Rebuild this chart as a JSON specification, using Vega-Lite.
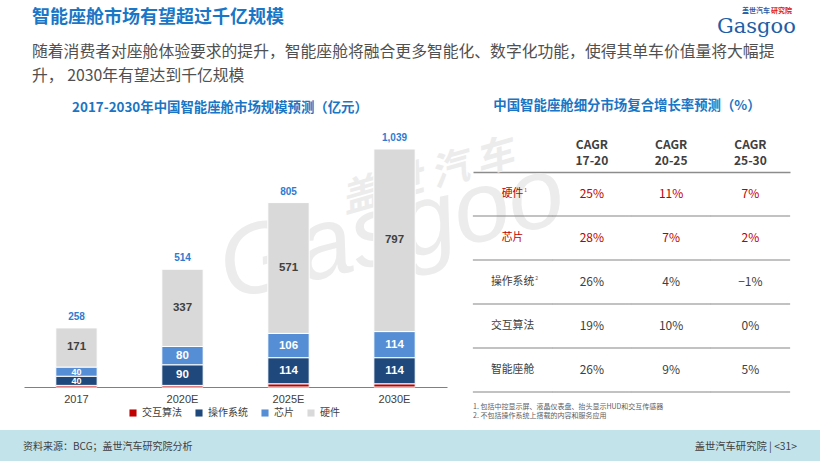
{
  "$schema": "https://vega.github.io/schema/vega-lite/v6.json",
  "width": 820,
  "height": 461,
  "autosize": "none",
  "padding": 0,
  "background": "#ffffff",
  "config": {"view": {"stroke": null}, "font": "Noto Sans CJK SC"},
  "datasets": {
    "market": [
      {"year": "2017", "part": "交互算法", "value": 7},
      {"year": "2017", "part": "操作系统", "value": 40},
      {"year": "2017", "part": "芯片", "value": 40},
      {"year": "2017", "part": "硬件", "value": 171},
      {"year": "2020E", "part": "交互算法", "value": 7},
      {"year": "2020E", "part": "操作系统", "value": 90},
      {"year": "2020E", "part": "芯片", "value": 80},
      {"year": "2020E", "part": "硬件", "value": 337},
      {"year": "2025E", "part": "交互算法", "value": 14},
      {"year": "2025E", "part": "操作系统", "value": 114},
      {"year": "2025E", "part": "芯片", "value": 106},
      {"year": "2025E", "part": "硬件", "value": 571},
      {"year": "2030E", "part": "交互算法", "value": 14},
      {"year": "2030E", "part": "操作系统", "value": 114},
      {"year": "2030E", "part": "芯片", "value": 114},
      {"year": "2030E", "part": "硬件", "value": 797}
    ],
    "cagr": [
      {"item": "硬件", "period": "17-20", "value": 0.25},
      {"item": "硬件", "period": "20-25", "value": 0.11},
      {"item": "硬件", "period": "25-30", "value": 0.07},
      {"item": "芯片", "period": "17-20", "value": 0.28},
      {"item": "芯片", "period": "20-25", "value": 0.07},
      {"item": "芯片", "period": "25-30", "value": 0.02},
      {"item": "操作系统", "period": "17-20", "value": 0.26},
      {"item": "操作系统", "period": "20-25", "value": 0.04},
      {"item": "操作系统", "period": "25-30", "value": -0.01},
      {"item": "交互算法", "period": "17-20", "value": 0.19},
      {"item": "交互算法", "period": "20-25", "value": 0.10},
      {"item": "交互算法", "period": "25-30", "value": 0.0},
      {"item": "智能座舱", "period": "17-20", "value": 0.26},
      {"item": "智能座舱", "period": "20-25", "value": 0.09},
      {"item": "智能座舱", "period": "25-30", "value": 0.05}
    ]
  },
  "layer": [
    {"data": {"values": [{}]}, "mark": {"type": "rect", "x": 0, "x2": 820, "y": 430, "y2": 461, "color": "#c3e3eb"}},
    {"data": {"values": [{}]}, "mark": {"type": "text", "text": "Gasgoo", "x": 228, "y": 300, "angle": -13, "align": "left", "baseline": "alphabetic", "fontSize": 100, "fontStyle": "italic", "font": "Liberation Sans", "color": "#ececec"}},
    {"data": {"values": [{}]}, "mark": {"type": "text", "text": "盖  世  汽  车", "x": 345, "y": 213, "angle": -16, "align": "left", "baseline": "alphabetic", "fontSize": 38, "fontWeight": "bold", "fontStyle": "italic", "color": "#ececec"}},
    {"data": {"values": [{}]}, "mark": {"type": "text", "text": "智能座舱市场有望超过千亿规模", "x": 32, "y": 18, "align": "left", "baseline": "middle", "fontSize": 18, "fontWeight": "bold", "color": "#1a76c6"}},
    {"data": {"values": [{}]}, "mark": {"type": "text", "text": "随着消费者对座舱体验要求的提升，智能座舱将融合更多智能化、数字化功能，使得其单车价值量将大幅提", "x": 32, "y": 52, "align": "left", "baseline": "middle", "fontSize": 15.8, "color": "#505050"}},
    {"data": {"values": [{}]}, "mark": {"type": "text", "text": "升， 2030年有望达到千亿规模", "x": 32, "y": 76, "align": "left", "baseline": "middle", "fontSize": 15.8, "color": "#505050"}},
    {"data": {"values": [{}]}, "mark": {"type": "text", "text": "Gasgoo", "x": 717, "y": 33, "align": "left", "baseline": "alphabetic", "fontSize": 21, "font": "DejaVu Serif", "color": "#1f5fa6"}},
    {"data": {"values": [{}]}, "mark": {"type": "text", "text": "盖世汽车", "x": 742, "y": 11, "align": "left", "baseline": "middle", "fontSize": 7, "fontWeight": "bold", "color": "#1f5fa6"}},
    {"data": {"values": [{}]}, "mark": {"type": "text", "text": "研究院", "x": 771, "y": 11, "align": "left", "baseline": "middle", "fontSize": 7, "fontWeight": "bold", "color": "#d7192b"}},
    {"data": {"values": [{}]}, "mark": {"type": "text", "text": "2017-2030年中国智能座舱市场规模预测（亿元）", "x": 220, "y": 108, "align": "center", "baseline": "middle", "fontSize": 13.4, "fontWeight": "bold", "color": "#1a75c4"}},
    {"data": {"values": [{}]}, "mark": {"type": "text", "text": "中国智能座舱细分市场复合增长率预测（%）", "x": 627, "y": 106, "align": "center", "baseline": "middle", "fontSize": 13.4, "fontWeight": "bold", "color": "#1a75c4"}},
    {"data": {"values": [{}]}, "mark": {"type": "text", "text": "1. 包括中控显示屏、液晶仪表盘、抬头显示HUD和交互传感器", "x": 473, "y": 406.5, "align": "left", "baseline": "middle", "fontSize": 7, "color": "#606060"}},
    {"data": {"values": [{}]}, "mark": {"type": "text", "text": "2. 不包括操作系统上搭载的内容和服务应用", "x": 473, "y": 416, "align": "left", "baseline": "middle", "fontSize": 7, "color": "#606060"}},
    {"data": {"values": [{}]}, "mark": {"type": "text", "text": "资料来源：BCG；盖世汽车研究院分析", "x": 23, "y": 447, "align": "left", "baseline": "middle", "fontSize": 10, "color": "#404040"}},
    {"data": {"values": [{}]}, "mark": {"type": "text", "text": "盖世汽车研究院 | <31>", "x": 797, "y": 447, "align": "right", "baseline": "middle", "fontSize": 10.3, "color": "#404040"}},
    {
      "data": {"name": "market"},
      "transform": [{"window": [{"op": "row_number", "as": "stackOrder"}]}],
      "encoding": {
        "x": {
          "field": "year", "type": "nominal", "sort": ["2017", "2020E", "2025E", "2030E"],
          "scale": {"range": [24, 447], "paddingInner": 0.61, "paddingOuter": 0.3},
          "axis": {"orient": "bottom", "offset": -74, "title": null, "ticks": false, "labelPadding": 6, "labelFontSize": 11, "labelColor": "#404040", "labelFont": "Liberation Sans", "domainColor": "#808080", "domainWidth": 1, "labelAngle": 0}
        }
      },
      "layer": [
        {
          "mark": {"type": "bar", "stroke": "#ffffff", "strokeWidth": 1},
          "encoding": {
            "y": {"field": "value", "type": "quantitative", "stack": "zero", "scale": {"domain": [0, 1039], "range": [387, 149], "nice": false, "zero": true}, "axis": null},
            "order": {"field": "stackOrder", "type": "quantitative", "sort": "ascending"},
            "color": {
              "field": "part", "type": "nominal", "sort": ["交互算法", "操作系统", "芯片", "硬件"],
              "scale": {"domain": ["交互算法", "操作系统", "芯片", "硬件"], "range": ["#c00000", "#1f497d", "#558ed5", "#d9d9d9"]},
              "legend": {"orient": "none", "legendX": 128, "legendY": 408, "direction": "horizontal", "title": null, "symbolType": "square", "symbolSize": 50, "symbolStrokeWidth": 0, "labelFontSize": 10, "labelColor": "#404040", "columnPadding": 12, "labelOffset": 4}
            }
          }
        },
        {
          "mark": {"type": "text", "font": "Liberation Sans", "fontWeight": "bold"},
          "encoding": {
            "y": {"field": "value", "type": "quantitative", "stack": "zero", "bandPosition": 0.5},
            "order": {"field": "stackOrder", "type": "quantitative", "sort": "ascending"},
            "detail": {"field": "part", "type": "nominal"},
            "size": {"condition": {"test": "datum.value < 50", "value": 9}, "value": 11.5},
            "color": {"condition": {"test": "datum.part === '硬件'", "value": "#404040"}, "value": "#ffffff"},
            "text": {"condition": {"test": "datum.part === '交互算法'", "value": ""}, "field": "value", "type": "quantitative"}
          }
        },
        {
          "transform": [{"aggregate": [{"op": "sum", "field": "value", "as": "total"}], "groupby": ["year"]}],
          "mark": {"type": "text", "font": "Liberation Sans", "fontWeight": "bold", "fontSize": 10, "color": "#2e7bd0", "dy": -11},
          "encoding": {
            "y": {"field": "total", "type": "quantitative"},
            "text": {"field": "total", "type": "quantitative", "format": ","}
          }
        }
      ]
    },
    {
      "data": {"name": "cagr"},
      "encoding": {
        "x": {
          "field": "period", "type": "nominal",
          "scale": {"domain": ["细分市场", "17-20", "20-25", "25-30"], "range": [473, 790], "paddingInner": 0, "paddingOuter": 0},
          "axis": {"orient": "top", "offset": -172, "title": null, "ticks": false, "labelPadding": 21, "labelFontSize": 12, "labelFontWeight": "bold", "labelColor": "#404040", "labelLineHeight": 16, "labelAngle": 0, "domainColor": "#8c8c8c", "domainWidth": 1.5, "labelExpr": "datum.value === '细分市场' ? '' : ['CAGR', datum.value]"}
        },
        "y": {
          "field": "item", "type": "nominal",
          "scale": {"domain": ["硬件", "芯片", "操作系统", "交互算法", "智能座舱"], "range": [172, 392], "paddingInner": 0, "paddingOuter": 0},
          "axis": null
        }
      },
      "layer": [
        {
          "mark": {"type": "tick", "orient": "horizontal", "thickness": 1.5, "size": 79.5, "color": "#8c8c8c"},
          "encoding": {"y": {"field": "item", "type": "nominal", "bandPosition": 1}}
        },
        {
          "transform": [{"filter": "datum.period === '17-20'"}],
          "mark": {"type": "tick", "orient": "horizontal", "thickness": 1.5, "size": 79.5, "color": "#8c8c8c"},
          "encoding": {"x": {"datum": "细分市场"}, "y": {"field": "item", "type": "nominal", "bandPosition": 1}}
        },
        {
          "mark": {"type": "text", "fontSize": 12},
          "encoding": {
            "text": {"field": "value", "type": "quantitative", "format": ".0%"},
            "color": {"condition": {"test": "datum.item === '硬件' || datum.item === '芯片'", "value": "#c00000"}, "value": "#404040"}
          }
        },
        {
          "transform": [{"filter": "datum.period === '17-20'"}],
          "mark": {"type": "text", "fontSize": 10.8},
          "encoding": {
            "x": {"datum": "细分市场"},
            "text": {"field": "item", "type": "nominal"},
            "color": {"condition": {"test": "datum.item === '硬件' || datum.item === '芯片'", "value": "#c00000"}, "value": "#404040"}
          }
        },
        {
          "transform": [{"filter": "datum.period === '17-20' && datum.item === '硬件'"}],
          "mark": {"type": "text", "fontSize": 5, "text": "1", "dx": 13, "dy": -4, "color": "#c00000"},
          "encoding": {"x": {"datum": "细分市场"}}
        },
        {
          "transform": [{"filter": "datum.period === '17-20' && datum.item === '操作系统'"}],
          "mark": {"type": "text", "fontSize": 5, "text": "2", "dx": 24, "dy": -4, "color": "#606060"},
          "encoding": {"x": {"datum": "细分市场"}}
        }
      ]
    }
  ],
  "resolve": {
    "scale": {"x": "independent", "y": "independent", "color": "independent"},
    "axis": {"x": "independent", "y": "independent"}
  }
}
